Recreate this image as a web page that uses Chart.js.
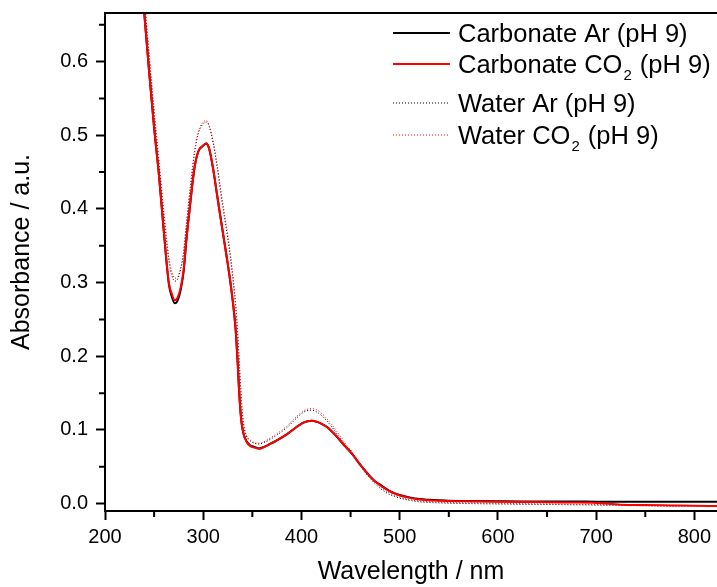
<!DOCTYPE html>
<html lang="en">
<head>
    <meta charset="UTF-8">
    <title>Absorbance spectra</title>
    <script src="https://cdn.jsdelivr.net/npm/chart.js"></script>
    <style>
        body { margin: 0; background: #fff; }
        #wrap { width: 717px; height: 587px; }
    </style>
</head>
<body>
    <div id="wrap">
        <canvas id="spectraChart" width="717" height="587"></canvas>
    </div>

    <script>
        // wavelength (nm) shared by all four spectra
        const wavelengths = [
            230, 235, 240, 245, 250, 255, 260, 265, 268, 271,
            274, 277, 280, 283, 287, 291, 295, 300, 303, 306,
            310, 314, 318, 322, 325, 328, 331, 333, 335, 337,
            339, 341, 344, 348, 352, 357, 362, 368, 375, 385,
            395, 402, 410, 416, 421, 426, 431, 436, 441, 445,
            450, 455, 460, 465, 470, 475, 480, 485, 490, 495,
            500, 510, 520, 530, 540, 550, 575, 600, 625, 650,
            675, 700, 725, 750, 775, 800, 823
        ];

        const carbonateAr = [
            0.83, 0.745, 0.665, 0.585, 0.51, 0.445, 0.367, 0.298, 0.281, 0.272,
            0.276, 0.29, 0.315, 0.36, 0.41, 0.455, 0.478, 0.486, 0.489, 0.482,
            0.455, 0.42, 0.385, 0.351, 0.325, 0.297, 0.264, 0.236, 0.192, 0.142,
            0.11, 0.095, 0.085, 0.079, 0.077, 0.075, 0.077, 0.081, 0.086, 0.094,
            0.104, 0.110, 0.1126, 0.111, 0.108, 0.104, 0.098, 0.091, 0.083, 0.077,
            0.070, 0.0615, 0.0525, 0.0445, 0.0367, 0.030, 0.026, 0.021, 0.017, 0.014,
            0.0118, 0.0085, 0.0062, 0.0052, 0.0045, 0.004, 0.0035, 0.0032, 0.003, 0.003,
            0.0028, 0.0027, 0.0026, 0.0024, 0.0025, 0.0024, 0.0026
        ];

        const carbonateCO2 = [
            0.83, 0.745, 0.665, 0.585, 0.51, 0.445, 0.368, 0.30, 0.285, 0.276,
            0.28, 0.293, 0.317, 0.36, 0.41, 0.455, 0.478, 0.486, 0.489, 0.482,
            0.455, 0.42, 0.385, 0.351, 0.325, 0.297, 0.264, 0.236, 0.192, 0.142,
            0.11, 0.095, 0.084, 0.078, 0.076, 0.0745, 0.077, 0.081, 0.086, 0.094,
            0.104, 0.110, 0.1125, 0.111, 0.108, 0.104, 0.098, 0.091, 0.083, 0.077,
            0.070, 0.0615, 0.0525, 0.0445, 0.0367, 0.030, 0.025, 0.0205, 0.0165, 0.0135,
            0.011, 0.0078, 0.0055, 0.0045, 0.004, 0.0035, 0.003, 0.0025, 0.0022, 0.002,
            0.0015, 0.001, -0.0015, -0.002, -0.0025, -0.003, -0.0032
        ];

        const waterAr = [
            0.86, 0.77, 0.685, 0.605, 0.53, 0.46, 0.39, 0.33, 0.31, 0.302,
            0.305, 0.318, 0.34, 0.38, 0.43, 0.475, 0.502, 0.516, 0.518, 0.512,
            0.49, 0.458, 0.42, 0.385, 0.36, 0.33, 0.295, 0.268, 0.23, 0.18,
            0.135, 0.108, 0.092, 0.085, 0.082, 0.081, 0.083, 0.087, 0.093, 0.103,
            0.116, 0.124, 0.127, 0.124, 0.119, 0.112, 0.104, 0.095, 0.086, 0.079,
            0.071, 0.061, 0.051, 0.042, 0.034, 0.027, 0.021, 0.016, 0.012, 0.0095,
            0.0075, 0.0045, 0.0025, 0.0015, 0.001, 0.0005, 0.0, -0.0005, -0.001, -0.0012,
            -0.0015, -0.002, -0.0025, -0.003, -0.0035, -0.0035, -0.004
        ];

        const waterCO2 = [
            0.86, 0.775, 0.69, 0.61, 0.535, 0.465, 0.395, 0.335, 0.315, 0.306,
            0.308, 0.32, 0.342, 0.382, 0.432, 0.477, 0.505, 0.518, 0.52, 0.514,
            0.493, 0.462, 0.425, 0.39, 0.365, 0.335, 0.3, 0.272, 0.235, 0.185,
            0.14, 0.11, 0.093, 0.086, 0.083, 0.082, 0.084, 0.089, 0.095, 0.105,
            0.118, 0.126, 0.129, 0.127, 0.122, 0.115, 0.107, 0.098, 0.089, 0.081,
            0.073, 0.063, 0.053, 0.044, 0.036, 0.029, 0.023, 0.018, 0.014, 0.011,
            0.0085, 0.0055, 0.0035, 0.0025, 0.002, 0.0015, 0.001, 0.0005, 0.0, -0.0005,
            -0.001, -0.0012, -0.0015, -0.002, -0.0022, -0.0025, -0.0025
        ];

        const xMinorTicks = [250, 350, 450, 550, 650, 750];
        const yMinorTicks = [0.05, 0.15, 0.25, 0.35, 0.45, 0.55, 0.65];

        const legendItems = [
            { text: 'Carbonate Ar (pH 9)', sub: '', rest: '', color: '#000', dash: [] },
            { text: 'Carbonate CO', sub: '2', rest: ' (pH 9)', color: '#f00', dash: [] },
            { text: 'Water Ar (pH 9)', sub: '', rest: '', color: '#000', dash: [1, 2] },
            { text: 'Water CO', sub: '2', rest: ' (pH 9)', color: '#f00', dash: [1, 2] }
        ];

        const yTitle = 'Absorbance / a.u.';

        const FONT = "'Liberation Sans', Arial, sans-serif";
        Chart.defaults.font.family = FONT;
        Chart.defaults.color = '#000';

        function toPoints(values) {
            return wavelengths.map((w, i) => ({ x: w, y: values[i] }));
        }

        // top frame line, minor ticks, y title and the in-plot legend
        const extras = {
            id: 'extras',
            afterDraw(chart) {
                const ctx = chart.ctx;
                const area = chart.chartArea;
                const xs = chart.scales.x;
                const ys = chart.scales.y;
                ctx.save();
                ctx.strokeStyle = '#000';
                ctx.lineWidth = 2;
                ctx.beginPath();
                ctx.moveTo(area.left - 1, area.top);
                ctx.lineTo(area.right, area.top);
                ctx.stroke();

                ctx.beginPath();
                xMinorTicks.forEach(v => {
                    const px = xs.getPixelForValue(v);
                    ctx.moveTo(px, area.bottom);
                    ctx.lineTo(px, area.bottom + 6);
                });
                yMinorTicks.forEach(v => {
                    const py = ys.getPixelForValue(v);
                    ctx.moveTo(area.left, py);
                    ctx.lineTo(area.left - 6, py);
                });
                ctx.stroke();

                // y axis title sits a little above the plot centre, as in the original
                ctx.save();
                ctx.translate(22, 252);
                ctx.rotate(-Math.PI / 2);
                ctx.font = '25px ' + FONT;
                ctx.fillStyle = '#000';
                ctx.textAlign = 'center';
                ctx.textBaseline = 'middle';
                ctx.fillText(yTitle, 0, 0);
                ctx.restore();

                const rowY = [33, 64, 103, 135];
                ctx.textBaseline = 'alphabetic';
                ctx.textAlign = 'left';
                legendItems.forEach((item, i) => {
                    const y = rowY[i];
                    ctx.strokeStyle = item.color;
                    ctx.lineWidth = item.dash.length ? 1 : 2;
                    ctx.setLineDash(item.dash);
                    ctx.beginPath();
                    ctx.moveTo(393, y);
                    ctx.lineTo(450, y);
                    ctx.stroke();
                    ctx.setLineDash([]);

                    ctx.fillStyle = '#000';
                    ctx.font = '25.5px ' + FONT;
                    let x = 458;
                    ctx.fillText(item.text, x, y + 9);
                    x += ctx.measureText(item.text).width;
                    if (item.sub) {
                        ctx.font = '15px ' + FONT;
                        ctx.fillText(item.sub, x + 1, y + 16);
                        x += ctx.measureText(item.sub).width + 2;
                        ctx.font = '25.5px ' + FONT;
                        ctx.fillText(item.rest, x, y + 9);
                    }
                });
                ctx.restore();
            }
        };

        new Chart(document.getElementById('spectraChart'), {
            type: 'line',
            data: {
                datasets: [
                    {
                        label: 'Carbonate Ar (pH 9)',
                        data: toPoints(carbonateAr),
                        borderColor: '#000',
                        borderWidth: 2,
                        order: 1
                    },
                    {
                        label: 'Carbonate CO2 (pH 9)',
                        data: toPoints(carbonateCO2),
                        borderColor: '#f00',
                        borderWidth: 2,
                        order: 0
                    },
                    {
                        label: 'Water Ar (pH 9)',
                        data: toPoints(waterAr),
                        borderColor: '#000',
                        borderWidth: 1,
                        borderDash: [1, 2],
                        order: 3
                    },
                    {
                        label: 'Water CO2 (pH 9)',
                        data: toPoints(waterCO2),
                        borderColor: '#f00',
                        borderWidth: 1,
                        borderDash: [1, 2],
                        order: 2
                    }
                ]
            },
            options: {
                responsive: false,
                animation: false,
                parsing: false,
                datasets: {
                    line: {
                        pointRadius: 0,
                        fill: false,
                        cubicInterpolationMode: 'monotone'
                    }
                },
                layout: { padding: { top: 13, left: 0, right: 0, bottom: 0 } },
                plugins: {
                    legend: { display: false },
                    tooltip: { enabled: false }
                },
                scales: {
                    x: {
                        type: 'linear',
                        min: 200,
                        max: 823,
                        afterFit(scale) {
                            scale.height = 76;
                            scale.paddingLeft = 0;
                            scale.paddingRight = 0;
                        },
                        border: { color: '#000', width: 2 },
                        grid: {
                            drawOnChartArea: false,
                            tickLength: 9,
                            tickWidth: 2,
                            tickColor: '#000'
                        },
                        ticks: {
                            stepSize: 100,
                            includeBounds: false,
                            maxRotation: 0,
                            padding: 5,
                            font: { size: 20 },
                            color: '#000'
                        },
                        title: {
                            display: true,
                            text: 'Wavelength / nm',
                            font: { size: 25 },
                            color: '#000',
                            padding: { top: 0, bottom: 0 }
                        }
                    },
                    y: {
                        type: 'linear',
                        min: -0.01,
                        max: 0.666,
                        afterFit(scale) {
                            scale.width = 105;
                            scale.paddingTop = 0;
                            scale.paddingBottom = 0;
                        },
                        border: { color: '#000', width: 2 },
                        grid: {
                            drawOnChartArea: false,
                            tickLength: 9,
                            tickWidth: 2,
                            tickColor: '#000'
                        },
                        ticks: {
                            stepSize: 0.1,
                            includeBounds: false,
                            padding: 8,
                            font: { size: 20 },
                            color: '#000',
                            callback: v => Number(v).toFixed(1)
                        }
                    }
                }
            },
            plugins: [extras]
        });
    </script>
</body>
</html>
